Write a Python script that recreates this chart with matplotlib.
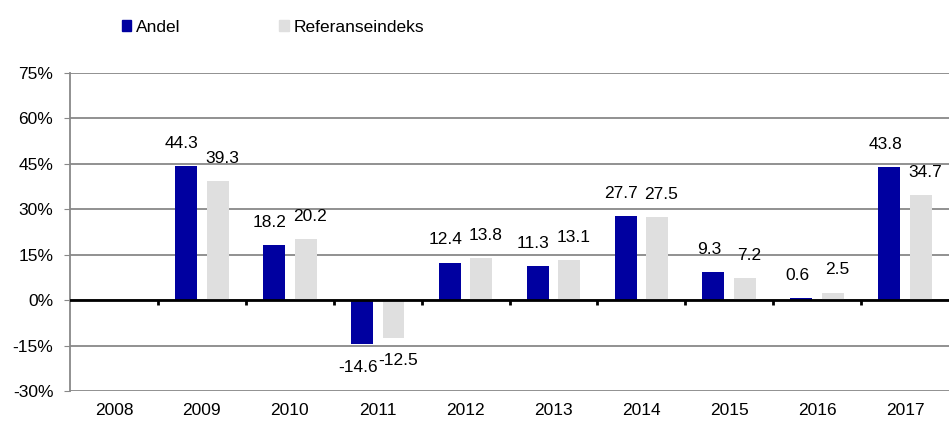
import numpy as np
import matplotlib.pyplot as plt
from matplotlib.patches import Patch

plt.rcParams['font.family'] = ['Liberation Sans', 'DejaVu Sans']

years = ['2008', '2009', '2010', '2011', '2012', '2013', '2014', '2015', '2016', '2017']
andel = [np.nan, 44.3, 18.2, -14.6, 12.4, 11.3, 27.7, 9.3, 0.6, 43.8]
referanse = [np.nan, 39.3, 20.2, -12.5, 13.8, 13.1, 27.5, 7.2, 2.5, 34.7]
yticks = [-30, -15, 0, 15, 30, 45, 60, 75]

blue = '#0000A0'
grey = '#DFDFDF'
fs = 12.5

fig = plt.figure(figsize=(9.49, 4.21), dpi=100)
ax = fig.add_axes([0.0738, 0.0713, 0.9262, 0.7553])

x = np.arange(len(years))
w = 0.25
b1 = ax.bar(x - 0.18, andel, w, color=blue, zorder=3)
b2 = ax.bar(x + 0.18, referanse, w, color=grey, zorder=3)

# value labels, skip the empty year
lab1 = ['' if np.isnan(v) else '%.1f' % v for v in andel]
lab2 = ['' if np.isnan(v) else '%.1f' % v for v in referanse]
for ann in ax.bar_label(b1, labels=lab1, padding=11, fontsize=fs):
    ann.xyann = (-3, ann.xyann[1])
for ann in ax.bar_label(b2, labels=lab2, padding=11, fontsize=fs):
    ann.xyann = (3, ann.xyann[1])

ax.set_xlim(-0.5, len(years) - 0.5)
ax.set_ylim(-30, 75)
ax.set_yticks(yticks)
ax.set_yticklabels(['%d%%' % t for t in yticks], fontsize=fs)
ax.set_xticks(x)
ax.set_xticklabels(years, fontsize=fs)
ax.tick_params(axis='x', length=0, pad=9)
ax.tick_params(axis='y', length=4, color='#888888', pad=8)

ax.grid(axis='y', color='#888888', lw=1.3, zorder=1)
for s in ['top', 'right', 'bottom']:
    ax.spines[s].set_visible(False)
ax.spines['left'].set_color('#888888')
ax.spines['left'].set_linewidth(1.3)

# black zero line with ticks between the years
ax.axhline(0, color='black', lw=2, zorder=4)
ax.vlines(x[:-1] + 0.5, -1.6, 0, color='black', lw=2, zorder=4)

handles = [Patch(color=blue), Patch(color=grey)]
fig.legend(handles, ['Andel', 'Referanseindeks'], loc='upper left',
           bbox_to_anchor=(0.112, 0.99), ncol=2, frameon=False, fontsize=fs,
           handlelength=0.55, handleheight=0.55, handletextpad=0.25, columnspacing=5.7)

fig.savefig('out.png', dpi=100)
